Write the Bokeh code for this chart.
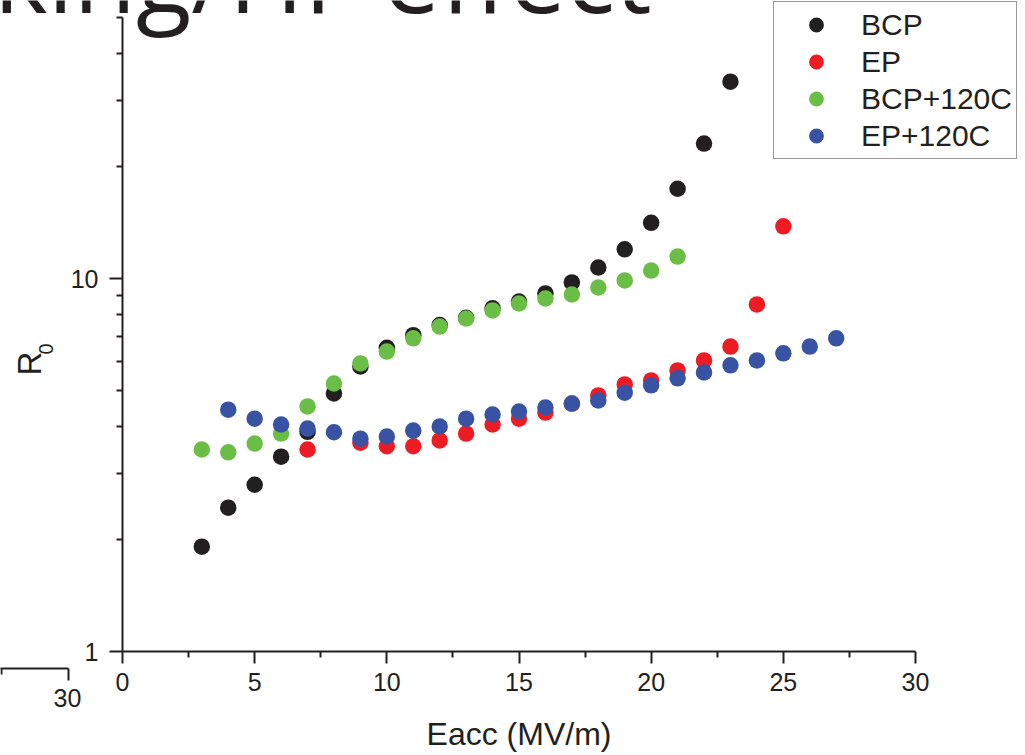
import math
from bokeh.plotting import figure
from bokeh.models import (FixedTicker, PrintfTickFormatter, Legend, LegendItem,
                          Label, Arrow, Range1d)
from bokeh.embed import file_html
from bokeh.resources import INLINE

# ---- data ----
x_bcp = [3, 4, 5, 6, 7, 8, 9, 10, 11, 12, 13, 14, 15, 16, 17, 18, 19, 20, 21, 22, 23]
r_bcp = [1.91, 2.43, 2.80, 3.33, 3.88, 4.92, 5.81, 6.52, 7.05, 7.50, 7.85, 8.32, 8.67,
         9.12, 9.76, 10.7, 11.97, 14.1, 17.4, 23.0, 33.7]

x_ep = [7, 9, 10, 11, 12, 13, 14, 15, 16, 17, 18, 19, 20, 21, 22, 23, 24, 25]
r_ep = [3.48, 3.63, 3.55, 3.55, 3.68, 3.84, 4.06, 4.21, 4.37, 4.62, 4.86, 5.20, 5.33,
        5.67, 6.03, 6.57, 8.52, 13.8]

x_bcp120 = [3, 4, 5, 6, 7, 8, 9, 10, 11, 12, 13, 14, 15, 16, 17, 18, 19, 20, 21]
r_bcp120 = [3.48, 3.42, 3.61, 3.84, 4.54, 5.23, 5.92, 6.37, 6.91, 7.43, 7.81, 8.21, 8.57,
            8.84, 9.06, 9.46, 9.88, 10.5, 11.45]

x_ep120 = [4, 5, 6, 7, 8, 9, 10, 11, 12, 13, 14, 15, 16, 17, 18, 19, 20, 21, 22, 23,
           24, 25, 26, 27]
r_ep120 = [4.45, 4.21, 4.06, 3.96, 3.87, 3.72, 3.77, 3.91, 4.01, 4.21, 4.32, 4.40, 4.51,
           4.62, 4.71, 4.94, 5.17, 5.40, 5.60, 5.85, 6.03, 6.30, 6.57, 6.91]

series_names = ["BCP", "EP", "BCP+120C", "EP+120C"]
series_colors = ["#231f20", "#ed1c24", "#6abd45", "#3953a4"]

x_ticks = [0, 5, 10, 15, 20, 25, 30]
x_minor = [2.5, 7.5, 12.5, 17.5, 22.5, 27.5]
y_ticks = [1, 10]
y_minor = [2, 3, 4, 5, 6, 7, 8, 9, 20, 30, 40, 50]

INK = "#231f20"
FONT = "Liberation Sans"

# ---- layout: the frame covers the whole canvas, axes sit at fixed locations ----
W, H = 1025, 755
X0_PX, X30_PX = 122.0, 915.0          # pixel of x=0 and x=30
Y1_PX, DEC_PX = 651.0, 373.0           # pixel of y=1, pixels per decade
ppx = (X30_PX - X0_PX) / 30.0
x_lo = -X0_PX / ppx
x_hi = (W - X0_PX) / ppx
y_lo = 10 ** ((Y1_PX - H) / DEC_PX)
y_hi = 10 ** (Y1_PX / DEC_PX)


def dx(px):
    return (px - X0_PX) / ppx


def dy(py):
    return 10 ** ((Y1_PX - py) / DEC_PX)


p = figure(width=W, height=H, output_backend="svg", toolbar_location=None,
           y_axis_type="log", x_range=Range1d(x_lo, x_hi), y_range=Range1d(y_lo, y_hi),
           min_border=0)
p.outline_line_color = None
p.xgrid.visible = False
p.ygrid.visible = False
p.background_fill_color = "white"
p.border_fill_color = "white"

renderers = []
for xs, ys, c in [(x_bcp, r_bcp, series_colors[0]), (x_ep, r_ep, series_colors[1]),
                  (x_bcp120, r_bcp120, series_colors[2]), (x_ep120, r_ep120, series_colors[3])]:
    r = p.scatter(xs, ys, size=16.5, fill_color=c, line_color=None)
    renderers.append(r)

# axes
for ax in (p.xaxis[0], p.yaxis[0]):
    ax.axis_line_color = INK
    ax.axis_line_width = 2
    ax.major_tick_line_color = INK
    ax.major_tick_line_width = 2
    ax.minor_tick_line_color = INK
    ax.minor_tick_line_width = 2
    ax.major_tick_in = 0
    ax.minor_tick_in = 0
    ax.major_label_text_font = FONT
    ax.major_label_text_font_size = "25px"
    ax.major_label_text_color = INK

p.xaxis.fixed_location = 1
p.xaxis.bounds = (0, 30)
p.xaxis.ticker = FixedTicker(ticks=x_ticks, minor_ticks=x_minor)
p.xaxis.major_tick_out = 12
p.xaxis.minor_tick_out = 6
p.xaxis.major_label_standoff = 9
p.xaxis.axis_label = "Eacc (MV/m)"
p.xaxis.axis_label_text_font = FONT
p.xaxis.axis_label_text_font_size = "32px"
p.xaxis.axis_label_text_font_style = "normal"
p.xaxis.axis_label_text_color = INK
p.xaxis.axis_label_standoff = 22

p.yaxis.fixed_location = 0
p.yaxis.bounds = (1, 50)
p.yaxis.ticker = FixedTicker(ticks=y_ticks, minor_ticks=y_minor)
p.yaxis.formatter = PrintfTickFormatter(format="%d")
p.yaxis.major_tick_out = 13
p.yaxis.minor_tick_out = 6
p.yaxis.major_label_standoff = 11

# y-axis title R with subscript 0
p.add_layout(Label(x=dx(29), y=dy(375), text="R", angle=math.pi / 2,
                   text_align="left", text_baseline="alphabetic",
                   text_font=FONT, text_font_size="33px", text_color=INK))
p.add_layout(Label(x=dx(45), y=dy(354), text="0", angle=math.pi / 2,
                   text_align="left", text_baseline="alphabetic",
                   text_font=FONT, text_font_size="20px", text_color=INK))

# cropped slide title at top
p.add_layout(Label(x=dx(651), y=dy(-27), text="king/HF effect", text_align="right",
                   text_baseline="alphabetic", text_font="Open Sans",
                   text_font_size="102px", text_color=INK))

# cropped fragment of a neighbouring chart (bottom-left)
p.add_layout(Label(x=dx(67), y=dy(688), text="30", text_align="center",
                   text_baseline="top", text_font=FONT, text_font_size="25px",
                   text_color=INK))
p.add_layout(Arrow(x_start=dx(-2), y_start=dy(668), x_end=dx(68), y_end=dy(668),
                   end=None, line_color=INK, line_width=2))
p.add_layout(Arrow(x_start=dx(68), y_start=dy(668), x_end=dx(68), y_end=dy(680),
                   end=None, line_color=INK, line_width=2))
p.add_layout(Arrow(x_start=dx(1), y_start=dy(668), x_end=dx(1), y_end=dy(674),
                   end=None, line_color=INK, line_width=2))

legend = Legend(items=[LegendItem(label=n, renderers=[r]) for n, r in zip(series_names, renderers)],
                location=(773, H - 159))
legend.label_text_font = FONT
legend.label_text_font_size = "30px"
legend.label_text_color = INK
legend.glyph_width = 76
legend.glyph_height = 37
legend.label_height = 37
legend.spacing = 0
legend.padding = 4
legend.margin = 0
legend.label_standoff = 7
legend.border_line_color = "#333333"
legend.border_line_width = 1
legend.background_fill_color = "white"
legend.background_fill_alpha = 1
p.add_layout(legend)

open("out.html", "w").write(file_html(p, INLINE))
